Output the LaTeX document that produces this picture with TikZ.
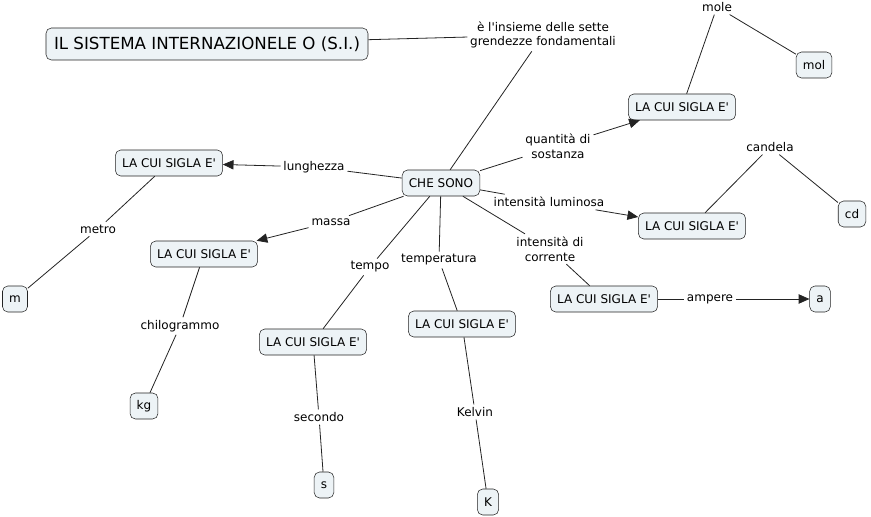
\documentclass[tikz,border=0pt]{standalone}
\usepackage{fontspec}
\setmainfont{DejaVu Sans}
\usetikzlibrary{arrows.meta}
\definecolor{ConceptFill}{RGB}{237,243,246}
\definecolor{ConceptLine}{RGB}{35,35,35}
\newcommand{\sigla}{LA CUI SIGLA E\textquotesingle}

\begin{document}
\begin{tikzpicture}[x=0.75pt, y=-0.75pt,
  concept/.style={draw=ConceptLine, fill=ConceptFill, rounded corners=4pt,
                  minimum height=19.5pt, inner xsep=5pt,
                  font=\fontsize{9}{11}\selectfont},
  phrase/.style={inner sep=2pt, align=center, font=\fontsize{9}{11}\selectfont},
  link/.style={draw=ConceptLine, line width=0.6pt},
  arr/.style={link, -{Triangle[length=8pt, width=7pt]}},
]
\useasboundingbox (0,0) rectangle (871,517);

% concepts
\node[concept, minimum height=24pt, inner xsep=6pt,
      font=\fontsize{12.5}{14}\selectfont] (si) at (207,44)
  {IL SISTEMA INTERNAZIONELE O (S.I.)};
\node[concept] (che) at (441,183) {CHE SONO};
\node[concept] (siglaMol) at (682,107) {\sigla};
\node[concept] (siglaCd) at (692,226) {\sigla};
\node[concept] (siglaA) at (604,299) {\sigla};
\node[concept] (siglaM) at (169,163) {\sigla};
\node[concept] (siglaKg) at (204,254) {\sigla};
\node[concept] (siglaS) at (313,342) {\sigla};
\node[concept] (siglaK) at (462,324) {\sigla};
\node[concept] (mol) at (814,65) {mol};
\node[concept] (cd) at (852,214) {cd};
\node[concept] (a) at (820,299) {a};
\node[concept] (m) at (15,299) {m};
\node[concept] (kg) at (144,406) {kg};
\node[concept] (s) at (324,485) {s};
\node[concept] (K) at (488,502) {K};

% linking phrases
\node[phrase] (insieme) at (543,35)
  {è l\textquotesingle insieme delle sette\\grendezze fondamentali};
\node[phrase] (quant) at (558,146) {quantità di\\sostanza};
\node[phrase] (lumin) at (549,202) {intensità luminosa};
\node[phrase] (corr) at (550,249) {intensità di\\corrente};
\node[phrase] (lung) at (314,167) {lunghezza};
\node[phrase] (massa) at (331,222) {massa};
\node[phrase] (tempo) at (370,267) {tempo};
\node[phrase] (temp) at (439,260) {temperatura};
\node[phrase] (mole) at (717,7) {mole};
\node[phrase] (candela) at (770,147) {candela};
\node[phrase] (ampere) at (710,299) {ampere};
\node[phrase] (metro) at (98,229) {metro};
\node[phrase] (chilo) at (180,326) {chilogrammo};
\node[phrase] (secondo) at (319,417) {secondo};
\node[phrase] (kelvin) at (475,412) {Kelvin};

% connectors
\draw[link] (si) -- (insieme);
\draw[link] (insieme) -- (che);
\draw[link] (che) -- (quant);
\draw[arr] (quant) -- (siglaMol);
\draw[link] (che) -- (lumin);
\draw[arr] (lumin) -- (siglaCd);
\draw[link] (che) -- (corr);
\draw[link] (corr) -- (siglaA);
\draw[link] (che) -- (lung);
\draw[arr] (lung) -- (siglaM);
\draw[link] (che) -- (massa);
\draw[arr] (massa) -- (siglaKg);
\draw[link] (che) -- (tempo);
\draw[link] (tempo) -- (siglaS);
\draw[link] (che) -- (temp);
\draw[link] (temp) -- (siglaK);
\draw[link] (siglaMol) -- (mole);
\draw[link] (mole) -- (mol);
\draw[link] (siglaCd) -- (candela);
\draw[link] (candela) -- (cd);
\draw[link] (siglaA) -- (ampere);
\draw[arr] (ampere) -- (a);
\draw[link] (siglaM) -- (metro);
\draw[link] (metro) -- (m);
\draw[link] (siglaKg) -- (chilo);
\draw[link] (chilo) -- (kg);
\draw[link] (siglaS) -- (secondo);
\draw[link] (secondo) -- (s);
\draw[link] (siglaK) -- (kelvin);
\draw[link] (kelvin) -- (K);
\end{tikzpicture}
\end{document}
